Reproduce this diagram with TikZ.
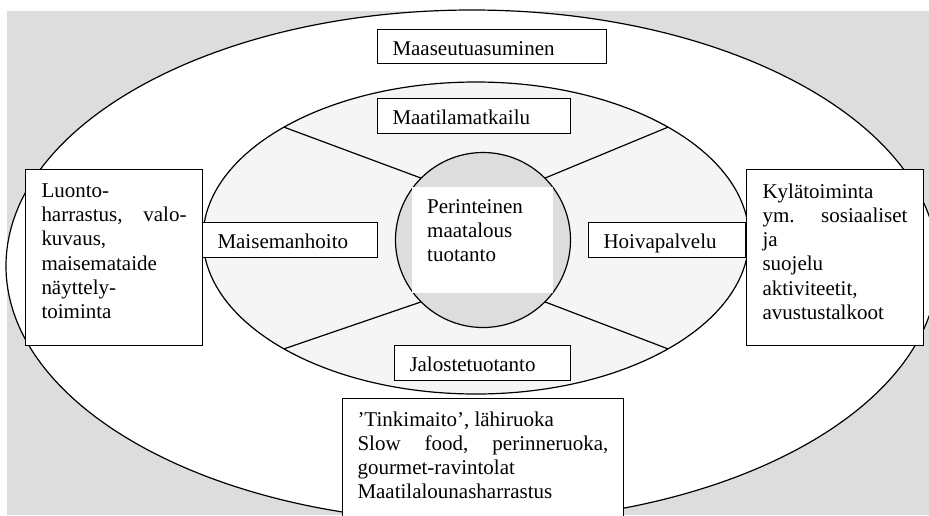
\documentclass[tikz,border=0pt]{standalone}
\usepackage{fontspec}
\setmainfont{Liberation Serif}
\usetikzlibrary{shapes.geometric}
\definecolor{bggray}{RGB}{221,221,221}
\definecolor{fieldgray}{RGB}{245,245,245}
\tikzset{
ring/.style={draw, line width=1.2pt, inner sep=0pt, outer sep=0pt},
labelbox/.style={draw, fill=white, line width=1pt, anchor=north west, inner xsep=15pt, inner ysep=0pt, align=left, minimum height=35pt, text height=17pt, text depth=0pt},
notebox/.style={draw, fill=white, line width=1pt, anchor=north west, inner xsep=16pt, inner ysep=14pt},
}

\begin{document}
\begin{tikzpicture}[%
x=1pt, y=-1pt,
font=\fontsize{21}{24.3}\selectfont,
]
\useasboundingbox (0,0) rectangle (929,515);
\clip (0,0) rectangle (929,515);
\fill [bggray] (7,11) rectangle (929,515);
%% rings;
\node [ring, ellipse, fill=white, minimum width=932, minimum height=512] (outer) at (472,266) {};
\node [ring, ellipse, fill=fieldgray, minimum width=546, minimum height=312] (field) at (476,238) {};
\node [ring, circle, fill=bggray, minimum size=175] (core) at (483,240) {};
%% spokes;
\draw [line width=1.2pt] (core.135) -- (field.150);
\draw [line width=1.2pt] (core.45) -- (field.30);
\draw [line width=1.2pt] (core.225) -- (field.210);
\draw [line width=1.2pt] (core.315) -- (field.330);
%% centre;
\node [fill=white, anchor=north west, inner xsep=15pt, inner ysep=12pt] (perinne) at (412,187)
  {\parbox[t][82pt][t]{111pt}{Perinteinen\\maatalous\\tuotanto}};
%% labels;
\node [labelbox, text width=199, minimum height=34] (asuminen) at (377,29) {Maaseutuasuminen};
\node [labelbox, text width=163] (matkailu) at (377,98) {Maatilamatkailu};
\node [labelbox, text width=145] (maisema) at (202,222) {Maisemanhoito};
\node [labelbox, text width=127] (hoiva) at (588,222) {Hoivapalvelu};
\node [labelbox, text width=146] (jaloste) at (394,345) {Jalostetuotanto};
%% notes;
\node [notebox] (luonto) at (25,169)
  {\parbox[t][148pt][t]{145pt}{Luonto-\\harrastus,\hfill valo-\\kuvaus,\\maisemataide\\näyttely-\\toiminta}};
\node [notebox] (kyla) at (746,169)
  {\parbox[t][148pt][t]{145pt}{Kylätoiminta\\ym.\hfill sosiaaliset\\ja\\suojelu\\aktiviteetit,\\avustustalkoot}};
\node [notebox, inner xsep=15pt, inner ysep=13pt] (ruoka) at (342,398)
  {\parbox[t][140pt][t]{251pt}{’Tinkimaito’, lähiruoka\\Slow\hfill food,\hfill perinneruoka,\\gourmet-ravintolat\\Maatilalounasharrastus}};
\end{tikzpicture}
\end{document}
